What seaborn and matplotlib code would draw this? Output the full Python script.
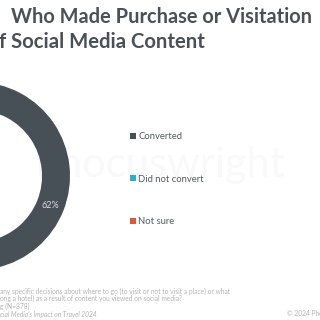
import matplotlib
matplotlib.use("Agg")
import matplotlib.pyplot as plt
import seaborn as sns

categories = ["Converted", "Did not convert", "Not sure"]
values = [62, 28, 10]
colors = ["#474f57", "#2aafd1", "#e2563b"]
title_line1 = "Who Made Purchase or Visitation"
title_line2 = "f Social Media Content"
footer_lines = [
    "any specific decisions about where to go (to visit or not to visit a place) or what",
    "ong a hotel) as a result of content you viewed on social media?",
    "g (N=878)",
]
source_text = "cial Media's Impact on Travel 2024"
copyright_text = "\u00a9 2024 Pho"

sns.set_theme(style="white")
plt.rcParams["font.family"] = ["Lato", "DejaVu Sans"]

fig = plt.figure(figsize=(3.2, 3.2), dpi=100)
fig.patch.set_facecolor("white")
ax = fig.add_axes([0, 0, 1, 1])

# watermark
ax.text(160, 155, "Phocuswright", fontsize=30, color="#f9f9f9",
        ha="center", va="center", zorder=0)

wedges, texts, autotexts = ax.pie(
    values, colors=colors, startangle=90, counterclock=False,
    radius=94, center=(-24, 144), wedgeprops=dict(width=28, linewidth=0),
    autopct=lambda p: f"{p:.0f}%", pctdistance=0.85,
    textprops=dict(color="#dcdfe2", fontsize=6.5), frame=True)
ax.set_xlim(0, 320)
ax.set_ylim(0, 320)
ax.set_aspect("equal")
ax.axis("off")

leg = ax.legend(wedges, categories, loc="upper left",
                bbox_to_anchor=(130 / 320, 1 - 132 / 320), frameon=False,
                fontsize=6.8, labelcolor="#555a60", handlelength=0.6,
                handleheight=0.6, handletextpad=0.3, labelspacing=3.55,
                borderpad=0, borderaxespad=0)

tc = "#4b5058"
fig.text(11 / 320, 1 - 17 / 320, title_line1, fontsize=14.4, fontweight="bold",
         color=tc, ha="left", va="center")
fig.text(-1 / 320, 1 - 42 / 320, title_line2, fontsize=14.6, fontweight="bold",
         color=tc, ha="left", va="center")

fc = "#b3b3b3"
for i, line in enumerate(footer_lines):
    fig.text(0, 1 - (291 + 7.5 * i) / 320, line, fontsize=4.8, color=fc,
             ha="left", va="center")
fig.text(0, 1 - 314 / 320, source_text, fontsize=4.8, color=fc,
         style="italic", ha="left", va="center")
fig.text(287 / 320, 1 - 314 / 320, copyright_text, fontsize=4.8, color=fc,
         ha="left", va="center")

fig.savefig("out.png", dpi=100, facecolor="white")
